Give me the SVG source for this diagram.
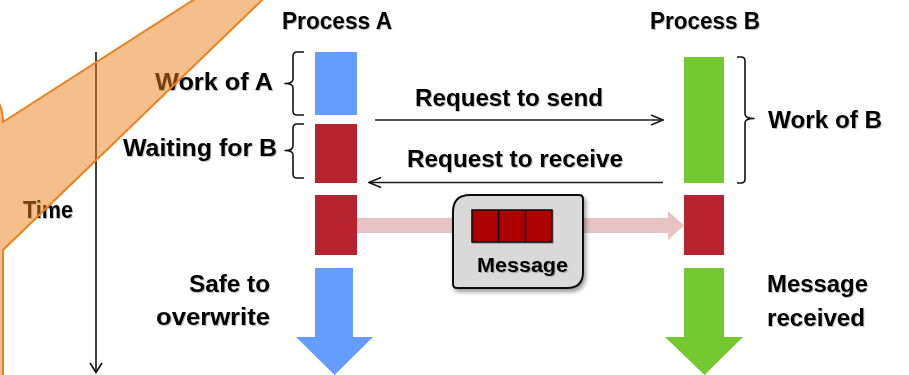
<svg xmlns="http://www.w3.org/2000/svg" width="909" height="375" viewBox="0 0 909 375">
  <style>
    .lbl { font-family: "Liberation Sans", Arial, sans-serif; font-weight: bold; font-size: 23px; fill: #000; filter: url(#txtShadow); }
    .small { font-size: 20px; }
    .mid { text-anchor: middle; }
    .end { text-anchor: end; }
    .brace { fill: none; stroke: #111; stroke-width: 1.6; stroke-linejoin: round; }
    .msgline { fill: none; stroke: #1a1a1a; stroke-width: 1.6; }
    .blue { fill: #649DFF; }
    .green { fill: #75C930; }
    .red { fill: #B92330; }
  </style>
  <defs>
    <filter id="txtShadow" x="-5%" y="-20%" width="110%" height="140%">
      <feDropShadow dx="1" dy="1" stdDeviation="0.5" flood-color="#000" flood-opacity="0.25"/>
    </filter>
    <filter id="boxShadow" x="-10%" y="-10%" width="125%" height="130%">
      <feDropShadow dx="2" dy="3" stdDeviation="2" flood-color="#000" flood-opacity="0.4"/>
    </filter>
    <marker id="openHead" viewBox="0 0 14 12" refX="13" refY="6" markerWidth="14" markerHeight="12" markerUnits="userSpaceOnUse" orient="auto">
      <path d="M1,1 L13,6 L1,11" fill="none" stroke="#1a1a1a" stroke-width="1.6"/>
    </marker>
  </defs>

  <rect width="909" height="375" fill="#fff"/>

  <!-- time axis -->
  <g id="time-axis">
    <line x1="96" y1="52" x2="96" y2="372" stroke="#111" stroke-width="1.6"/>
    <path d="M90,363 L96,372.5 L102,363" fill="none" stroke="#111" stroke-width="1.6"/>
    <text class="lbl" x="23" y="218" textLength="50" lengthAdjust="spacingAndGlyphs">Time</text>
  </g>

  <!-- process A lane -->
  <g id="process-a">
    <text class="lbl mid" x="337" y="29" textLength="110" lengthAdjust="spacingAndGlyphs">Process A</text>
    <rect id="a-work" class="blue" x="315" y="52" width="42" height="63"/>
    <rect id="a-wait" class="red" x="315" y="124" width="42" height="59"/>
    <rect id="a-send" class="red" x="315" y="195" width="42" height="60"/>
    <path id="a-arrow" class="blue" d="M315,268 L353,268 L353,337 L373,337 L334.5,375 L296,337 L315,337 Z"/>
  </g>

  <!-- process B lane -->
  <g id="process-b">
    <text class="lbl mid" x="705" y="29" textLength="110" lengthAdjust="spacingAndGlyphs">Process B</text>
    <rect id="b-work" class="green" x="684" y="57" width="40" height="126"/>
    <rect id="b-recv" class="red" x="684" y="195" width="40" height="60"/>
    <path id="b-arrow" class="green" d="M684,268 L724,268 L724,337 L743,337 L704.5,375 L665,337 L684,337 Z"/>
  </g>

  <!-- braces with their labels -->
  <g id="work-of-a">
    <path class="brace" d="M304,52 L297,52 Q293,52 293,56 L293,79 Q293,83.5 285,83.5 Q293,83.5 293,88 L293,111 Q293,115 297,115 L304,115"/>
    <text class="lbl end" x="273" y="90" textLength="118" lengthAdjust="spacingAndGlyphs">Work of A</text>
  </g>
  <g id="waiting-for-b">
    <path class="brace" d="M304,124 L297,124 Q293,124 293,128 L293,146 Q293,150.5 285,150.5 Q293,150.5 293,155 L293,174 Q293,178 297,178 L304,178"/>
    <text class="lbl end" x="277" y="156" textLength="154" lengthAdjust="spacingAndGlyphs">Waiting for B</text>
  </g>
  <g id="work-of-b">
    <path class="brace" d="M737,57 L741,57 Q745,57 745,61 L745,114 Q745,118.5 754,118.5 Q745,118.5 745,123 L745,179 Q745,183 741,183 L737,183"/>
    <text class="lbl" x="768" y="128" textLength="114" lengthAdjust="spacingAndGlyphs">Work of B</text>
  </g>

  <!-- outcome labels -->
  <g id="safe-to-overwrite">
    <text class="lbl end" x="270" y="292" textLength="81" lengthAdjust="spacingAndGlyphs">Safe to</text>
    <text class="lbl end" x="270" y="325" textLength="114" lengthAdjust="spacingAndGlyphs">overwrite</text>
  </g>
  <g id="message-received">
    <text class="lbl" x="767" y="292" textLength="101" lengthAdjust="spacingAndGlyphs">Message</text>
    <text class="lbl" x="767" y="326" textLength="98" lengthAdjust="spacingAndGlyphs">received</text>
  </g>

  <!-- connectors -->
  <g id="connectors">
    <line class="msgline" x1="375" y1="120" x2="663" y2="120" marker-end="url(#openHead)"/>
    <text class="lbl mid" x="509" y="106" textLength="188" lengthAdjust="spacingAndGlyphs">Request to send</text>
    <line class="msgline" x1="663" y1="182.5" x2="369" y2="182.5" marker-end="url(#openHead)"/>
    <text class="lbl mid" x="515" y="167" textLength="216" lengthAdjust="spacingAndGlyphs">Request to receive</text>
    <path id="transfer" d="M357,218 L668,218 L668,211 L684,225.5 L668,240 L668,233 L357,233 Z" fill="#E7C4C4"/>
  </g>

  <!-- message packet -->
  <g id="message">
    <path d="M470,195 L579,195 Q583,195 583,199 L583,272 Q583,288 567,288 L457,288 Q453,288 453,284 L453,212 Q453,195 470,195 Z" fill="#D9D9D9" stroke="#111" stroke-width="2" filter="url(#boxShadow)"/>
    <g filter="url(#txtShadow)">
      <rect x="472" y="210" width="80" height="32" fill="#AE0000" stroke="#111" stroke-width="1.6"/>
      <line x1="498.7" y1="210" x2="498.7" y2="242" stroke="#111" stroke-width="1.6"/>
      <line x1="525.3" y1="210" x2="525.3" y2="242" stroke="#111" stroke-width="1.6"/>
    </g>
    <text class="lbl small mid" x="522.5" y="272" textLength="91" lengthAdjust="spacingAndGlyphs">Message</text>
  </g>

  <!-- callout tail laid over the left edge -->
  <path id="callout" d="M-40,84 Q3,86 3,122 L399,-132 L3,250 L3,400 L-40,400 Z" fill="#E97F1B" fill-opacity="0.5" stroke="#E9821F" stroke-width="2" stroke-linejoin="miter"/>
</svg>
